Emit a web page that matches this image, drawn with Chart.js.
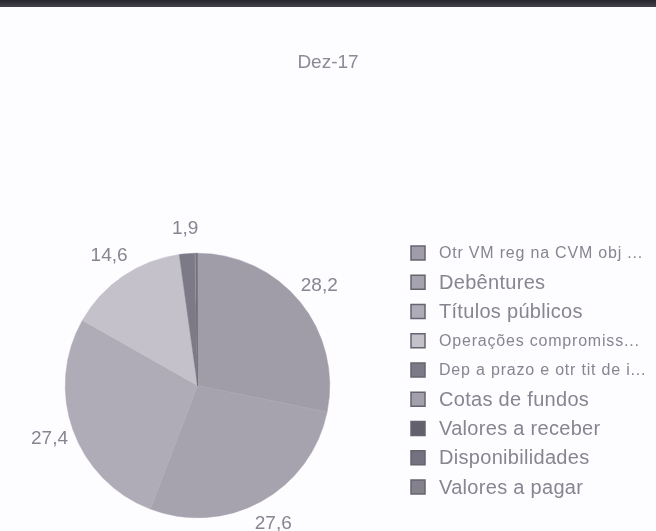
<!DOCTYPE html>
<html><head><meta charset="utf-8">
<script src="https://cdn.jsdelivr.net/npm/chart.js@4/dist/chart.umd.min.js"></script>
<style>
html,body{margin:0;padding:0;background:#fdfcfe;overflow:hidden;}
#wrap{position:absolute;left:0;top:0;width:656px;height:531px;}
#bar{position:absolute;left:0;top:0;width:656px;height:7px;background:linear-gradient(#26252c,#45444c);}
</style></head><body>
<div id="wrap"><canvas id="c" width="656" height="531"></canvas></div>
<div id="bar"></div>
<script>
const chartTitle = 'Dez-17';
const categories = [
  'Otr VM reg na CVM obj ...',
  'Debêntures',
  'Títulos públicos',
  'Operações compromiss...',
  'Dep a prazo e otr tit de i...',
  'Cotas de fundos',
  'Valores a receber',
  'Disponibilidades',
  'Valores a pagar'
];
const values = [28.2, 27.6, 27.4, 14.6, 1.9, 0.1, 0.1, 0.1, 0.0];
const sliceColors = ['#a09da9', '#a6a3af', '#afacb7', '#c4c1cb', '#7d7a87', '#a3a0ab', '#63606d', '#75727f', '#84818d'];

const FONT = '"Liberation Sans", Arial, sans-serif';
const TEXT = '#878591';

const customPlugin = {
  id: 'custom',
  afterDraw(chart) {
    const ctx = chart.ctx;
    ctx.save();
    // title
    ctx.fillStyle = '#8c8a96';
    ctx.font = '19px ' + FONT;
    ctx.textAlign = 'center';
    ctx.textBaseline = 'middle';
    ctx.fillText(chartTitle, chart.width / 2, 63);

    // value labels outside the pie
    const meta = chart.getDatasetMeta(0);
    const data = chart.data.datasets[0].data;
    ctx.font = '19px ' + FONT;
    ctx.fillStyle = TEXT;
    meta.data.forEach((arc, i) => {
      const v = data[i];
      if (v < 1) return;
      const p = arc.getProps(['x', 'y', 'startAngle', 'endAngle', 'outerRadius'], true);
      const mid = (p.startAngle + p.endAngle) / 2;
      const d = p.outerRadius + 25;
      ctx.fillText(v.toFixed(1).replace('.', ','), p.x + Math.cos(mid) * d, p.y + Math.sin(mid) * d);
    });

    // legend
    ctx.textAlign = 'left';
    chart.data.labels.forEach((lab, i) => {
      const y = 253 + i * 29.25;
      ctx.fillStyle = chart.data.datasets[0].backgroundColor[i];
      ctx.fillRect(411, y - 7, 14, 14);
      ctx.strokeStyle = '#66646f';
      ctx.lineWidth = 1.5;
      ctx.strokeRect(411, y - 7, 14, 14);
      ctx.fillStyle = TEXT;
      if (lab.endsWith('...')) {
        ctx.font = '16px ' + FONT;
        ctx.letterSpacing = '0.8px';
      } else {
        ctx.font = '20px ' + FONT;
        ctx.letterSpacing = '0.3px';
      }
      ctx.fillText(lab, 439, y + 1);
    });
    ctx.letterSpacing = '0px';
    ctx.restore();
  }
};

new Chart(document.getElementById('c'), {
  type: 'pie',
  data: {
    labels: categories,
    datasets: [{
      data: values,
      backgroundColor: sliceColors,
      borderColor: sliceColors,
      borderWidth: 0.5
    }]
  },
  options: {
    responsive: false,
    animation: false,
    layout: { padding: { left: 65, right: 326, top: 253, bottom: 13 } },
    plugins: {
      legend: { display: false },
      title: { display: false },
      tooltip: { enabled: false }
    }
  },
  plugins: [customPlugin]
});
</script>
</body></html>
